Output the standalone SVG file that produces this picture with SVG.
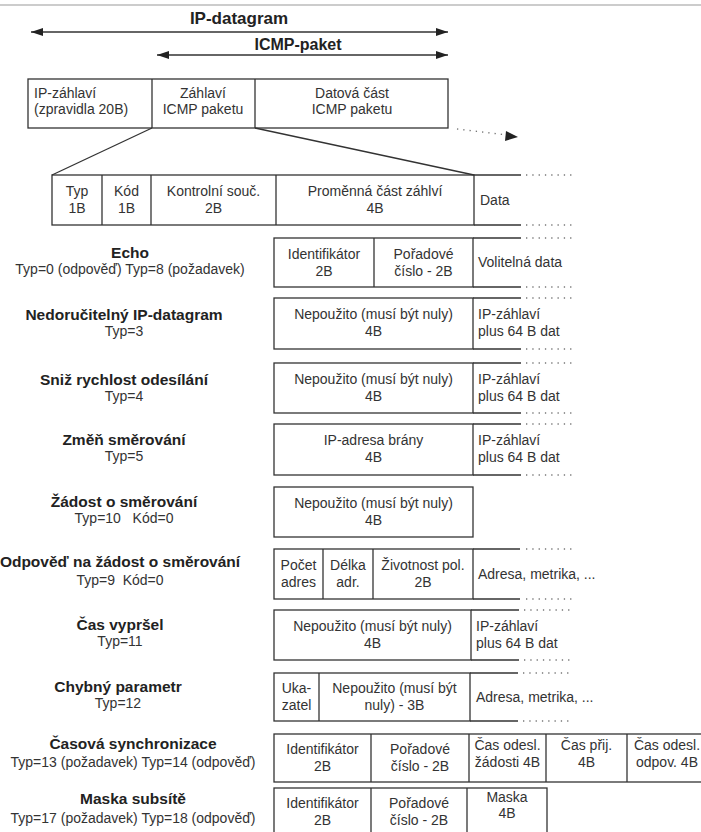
<svg xmlns="http://www.w3.org/2000/svg" width="701" height="832" viewBox="0 0 701 832">
<defs>
<style>
.t{font-family:"Liberation Sans",Arial,sans-serif;font-size:14px;fill:#333}
.c{text-anchor:middle}
.h{font-family:"Liberation Sans",Arial,sans-serif;font-weight:bold;font-size:15.5px;fill:#222;text-anchor:middle}
.s{font-family:"Liberation Sans",Arial,sans-serif;font-size:14px;fill:#333;text-anchor:middle}
.box{fill:none;stroke:#333;stroke-width:1.3}
.ln{stroke:#333;stroke-width:1.3;fill:none}
.dot{stroke:#777;stroke-width:1.3;stroke-dasharray:1.3 5;fill:none}
.ttl{font-family:"Liberation Sans",Arial,sans-serif;font-weight:bold;fill:#222;text-anchor:middle}
</style>
<marker id="ah" viewBox="0 0 12 8" refX="12" refY="4" markerWidth="12" markerHeight="8" markerUnits="userSpaceOnUse" orient="auto-start-reverse">
<path d="M0,0 L12,4 L0,8 z" fill="#222"/>
</marker>
</defs>
<rect width="701" height="832" fill="#fff"/>
<line x1="0" y1="5" x2="701" y2="5" stroke="#bbb" stroke-width="1.5"/>

<g id="connectors">
<line class="ln" x1="31" y1="32" x2="448" y2="32" marker-start="url(#ah)" marker-end="url(#ah)"/>
<line class="ln" x1="157" y1="55" x2="448" y2="55" marker-start="url(#ah)" marker-end="url(#ah)"/>
<line class="dot" x1="457" y1="129" x2="507" y2="135"/>
<polygon points="518,137 506,131 505,141" fill="#222"/>
<line class="ln" x1="152" y1="128" x2="52" y2="175"/>
<line class="ln" x1="255" y1="128" x2="474" y2="175"/>
</g>

<g id="titles">
<text class="ttl" x="239" y="24" font-size="17">IP-datagram</text>
<text class="ttl" x="298" y="50" font-size="16">ICMP-paket</text>
</g>

<g id="ip-datagram-box">
<rect class="box" x="28" y="79" width="420" height="49"/>
<line class="ln" x1="152" y1="79" x2="152" y2="128"/>
<line class="ln" x1="255" y1="79" x2="255" y2="128"/>
<text class="t" x="34" y="98">IP-záhlaví</text>
<text class="t" x="34" y="114">(zpravidla 20B)</text>
<text class="t c" x="203" y="98">Záhlaví</text>
<text class="t c" x="203" y="114">ICMP paketu</text>
<text class="t c" x="352" y="98">Datová část</text>
<text class="t c" x="352" y="114">ICMP paketu</text>
</g>

<g id="icmp-header">
<rect class="box" x="52" y="175" width="422" height="50"/>
<line class="ln" x1="102" y1="175" x2="102" y2="225"/>
<line class="ln" x1="151" y1="175" x2="151" y2="225"/>
<line class="ln" x1="276" y1="175" x2="276" y2="225"/>
<line class="ln" x1="474" y1="175" x2="521" y2="175"/>
<line class="ln" x1="474" y1="225" x2="521" y2="225"/>
<line class="dot" x1="526" y1="175" x2="574" y2="175"/>
<line class="dot" x1="526" y1="225" x2="574" y2="225"/>
<text class="t c" x="77" y="196">Typ</text>
<text class="t c" x="77" y="213">1B</text>
<text class="t c" x="126.5" y="196">Kód</text>
<text class="t c" x="126.5" y="213">1B</text>
<text class="t c" x="213.5" y="196">Kontrolní souč.</text>
<text class="t c" x="213.5" y="213">2B</text>
<text class="t c" x="375" y="196">Proměnná část záhlví</text>
<text class="t c" x="375" y="213">4B</text>
<text class="t" x="480" y="205">Data</text>
</g>

<g id="echo">
<text class="h" x="130" y="258">Echo</text>
<text class="s" x="130" y="274">Typ=0 (odpověď) Typ=8 (požadavek)</text>
<rect class="box" x="274" y="238" width="199" height="49"/>
<line class="ln" x1="374" y1="238" x2="374" y2="287"/>
<line class="ln" x1="473" y1="238" x2="521" y2="238"/>
<line class="ln" x1="473" y1="287" x2="521" y2="287"/>
<line class="dot" x1="526" y1="238" x2="574" y2="238"/>
<line class="dot" x1="526" y1="287" x2="574" y2="287"/>
<text class="t c" x="324" y="259">Identifikátor</text>
<text class="t c" x="324" y="276">2B</text>
<text class="t c" x="423.5" y="259">Pořadové</text>
<text class="t c" x="423.5" y="276">číslo - 2B</text>
<text class="t" x="478" y="267">Volitelná data</text>
</g>

<g id="nedorucitelny">
<text class="h" x="124" y="320">Nedoručitelný IP-datagram</text>
<text class="s" x="124" y="336">Typ=3</text>
<rect class="box" x="274" y="298" width="199" height="51"/>
<line class="ln" x1="473" y1="298" x2="521" y2="298"/>
<line class="ln" x1="473" y1="349" x2="521" y2="349"/>
<line class="dot" x1="526" y1="298" x2="574" y2="298"/>
<line class="dot" x1="526" y1="349" x2="574" y2="349"/>
<text class="t c" x="373.5" y="319">Nepoužito (musí být nuly)</text>
<text class="t c" x="373.5" y="336">4B</text>
<text class="t" x="478" y="319">IP-záhlaví</text>
<text class="t" x="478" y="336">plus 64 B dat</text>
</g>

<g id="sniz">
<text class="h" x="124" y="385">Sniž rychlost odesílání</text>
<text class="s" x="124" y="401">Typ=4</text>
<rect class="box" x="274" y="363" width="199" height="50"/>
<line class="ln" x1="473" y1="363" x2="521" y2="363"/>
<line class="ln" x1="473" y1="413" x2="521" y2="413"/>
<line class="dot" x1="526" y1="363" x2="574" y2="363"/>
<line class="dot" x1="526" y1="413" x2="574" y2="413"/>
<text class="t c" x="373.5" y="384">Nepoužito (musí být nuly)</text>
<text class="t c" x="373.5" y="401">4B</text>
<text class="t" x="478" y="384">IP-záhlaví</text>
<text class="t" x="478" y="401">plus 64 B dat</text>
</g>

<g id="zmen">
<text class="h" x="124" y="445">Změň směrování</text>
<text class="s" x="124" y="461">Typ=5</text>
<rect class="box" x="274" y="424" width="199" height="51"/>
<line class="ln" x1="473" y1="424" x2="521" y2="424"/>
<line class="ln" x1="473" y1="475" x2="521" y2="475"/>
<line class="dot" x1="526" y1="424" x2="574" y2="424"/>
<line class="dot" x1="526" y1="475" x2="574" y2="475"/>
<text class="t c" x="373.5" y="445">IP-adresa brány</text>
<text class="t c" x="373.5" y="462">4B</text>
<text class="t" x="478" y="445">IP-záhlaví</text>
<text class="t" x="478" y="462">plus 64 B dat</text>
</g>

<g id="zadost">
<text class="h" x="124" y="507">Žádost o směrování</text>
<text class="s" x="124" y="523">Typ=10&#160;&#160;&#160;Kód=0</text>
<rect class="box" x="274" y="487" width="199" height="50"/>
<text class="t c" x="373.5" y="508">Nepoužito (musí být nuly)</text>
<text class="t c" x="373.5" y="525">4B</text>
</g>

<g id="odpoved">
<text class="h" x="120" y="567">Odpověď na žádost o směrování</text>
<text class="s" x="120" y="585">Typ=9&#160;&#160;Kód=0</text>
<rect class="box" x="274" y="549" width="199" height="50"/>
<line class="ln" x1="323" y1="549" x2="323" y2="599"/>
<line class="ln" x1="373" y1="549" x2="373" y2="599"/>
<line class="ln" x1="473" y1="549" x2="520" y2="549"/>
<line class="ln" x1="473" y1="599" x2="520" y2="599"/>
<line class="dot" x1="526" y1="549" x2="574" y2="549"/>
<line class="dot" x1="526" y1="599" x2="574" y2="599"/>
<text class="t c" x="298.5" y="570">Počet</text>
<text class="t c" x="298.5" y="587">adres</text>
<text class="t c" x="348" y="570">Délka</text>
<text class="t c" x="348" y="587">adr.</text>
<text class="t c" x="423" y="570">Životnost pol.</text>
<text class="t c" x="423" y="587">2B</text>
<text class="t" x="478" y="579">Adresa, metrika, ...</text>
</g>

<g id="cas-vyprsel">
<text class="h" x="120" y="630">Čas vypršel</text>
<text class="s" x="120" y="646">Typ=11</text>
<rect class="box" x="274" y="610" width="197" height="50"/>
<line class="ln" x1="471" y1="610" x2="519" y2="610"/>
<line class="ln" x1="471" y1="660" x2="519" y2="660"/>
<line class="dot" x1="524" y1="610" x2="572" y2="610"/>
<line class="dot" x1="524" y1="660" x2="572" y2="660"/>
<text class="t c" x="372.5" y="631">Nepoužito (musí být nuly)</text>
<text class="t c" x="372.5" y="648">4B</text>
<text class="t" x="476" y="631">IP-záhlaví</text>
<text class="t" x="476" y="648">plus 64 B dat</text>
</g>

<g id="chybny">
<text class="h" x="118" y="692">Chybný parametr</text>
<text class="s" x="118" y="708">Typ=12</text>
<rect class="box" x="274" y="673" width="196" height="48"/>
<line class="ln" x1="319" y1="673" x2="319" y2="721"/>
<line class="ln" x1="470" y1="673" x2="518" y2="673"/>
<line class="ln" x1="470" y1="721" x2="518" y2="721"/>
<line class="dot" x1="523" y1="673" x2="570" y2="673"/>
<line class="dot" x1="523" y1="721" x2="570" y2="721"/>
<text class="t c" x="296.5" y="693">Uka-</text>
<text class="t c" x="296.5" y="710">zatel</text>
<text class="t c" x="394.5" y="693">Nepoužito (musí být</text>
<text class="t c" x="394.5" y="710">nuly) - 3B</text>
<text class="t" x="476" y="702">Adresa, metrika, ...</text>
</g>

<g id="casova-synchronizace">
<text class="h" x="133" y="749">Časová synchronizace</text>
<text class="s" x="133" y="767">Typ=13 (požadavek) Typ=14 (odpověď)</text>
<rect class="box" x="274" y="734" width="440" height="48"/>
<line class="ln" x1="371" y1="734" x2="371" y2="782"/>
<line class="ln" x1="469" y1="734" x2="469" y2="782"/>
<line class="ln" x1="546" y1="734" x2="546" y2="782"/>
<line class="ln" x1="627" y1="734" x2="627" y2="782"/>
<text class="t c" x="322.5" y="754">Identifikátor</text>
<text class="t c" x="322.5" y="771">2B</text>
<text class="t c" x="420" y="754">Pořadové</text>
<text class="t c" x="420" y="771">číslo - 2B</text>
<text class="t c" x="507.5" y="750">Čas odesl.</text>
<text class="t c" x="507.5" y="767">žádosti 4B</text>
<text class="t c" x="586.5" y="750">Čas přij.</text>
<text class="t c" x="586.5" y="767">4B</text>
<text class="t c" x="667" y="750">Čas odesl.</text>
<text class="t c" x="667" y="767">odpov. 4B</text>
</g>

<g id="maska-subsite">
<text class="h" x="133" y="804">Maska subsítě</text>
<text class="s" x="133" y="823">Typ=17 (požadavek) Typ=18 (odpověď)</text>
<rect class="box" x="274" y="788" width="273" height="52"/>
<line class="ln" x1="371" y1="788" x2="371" y2="840"/>
<line class="ln" x1="467" y1="788" x2="467" y2="840"/>
<text class="t c" x="322.5" y="808">Identifikátor</text>
<text class="t c" x="322.5" y="825">2B</text>
<text class="t c" x="419" y="808">Pořadové</text>
<text class="t c" x="419" y="825">číslo - 2B</text>
<text class="t c" x="507" y="802">Maska</text>
<text class="t c" x="507" y="818">4B</text>
</g>
</svg>
